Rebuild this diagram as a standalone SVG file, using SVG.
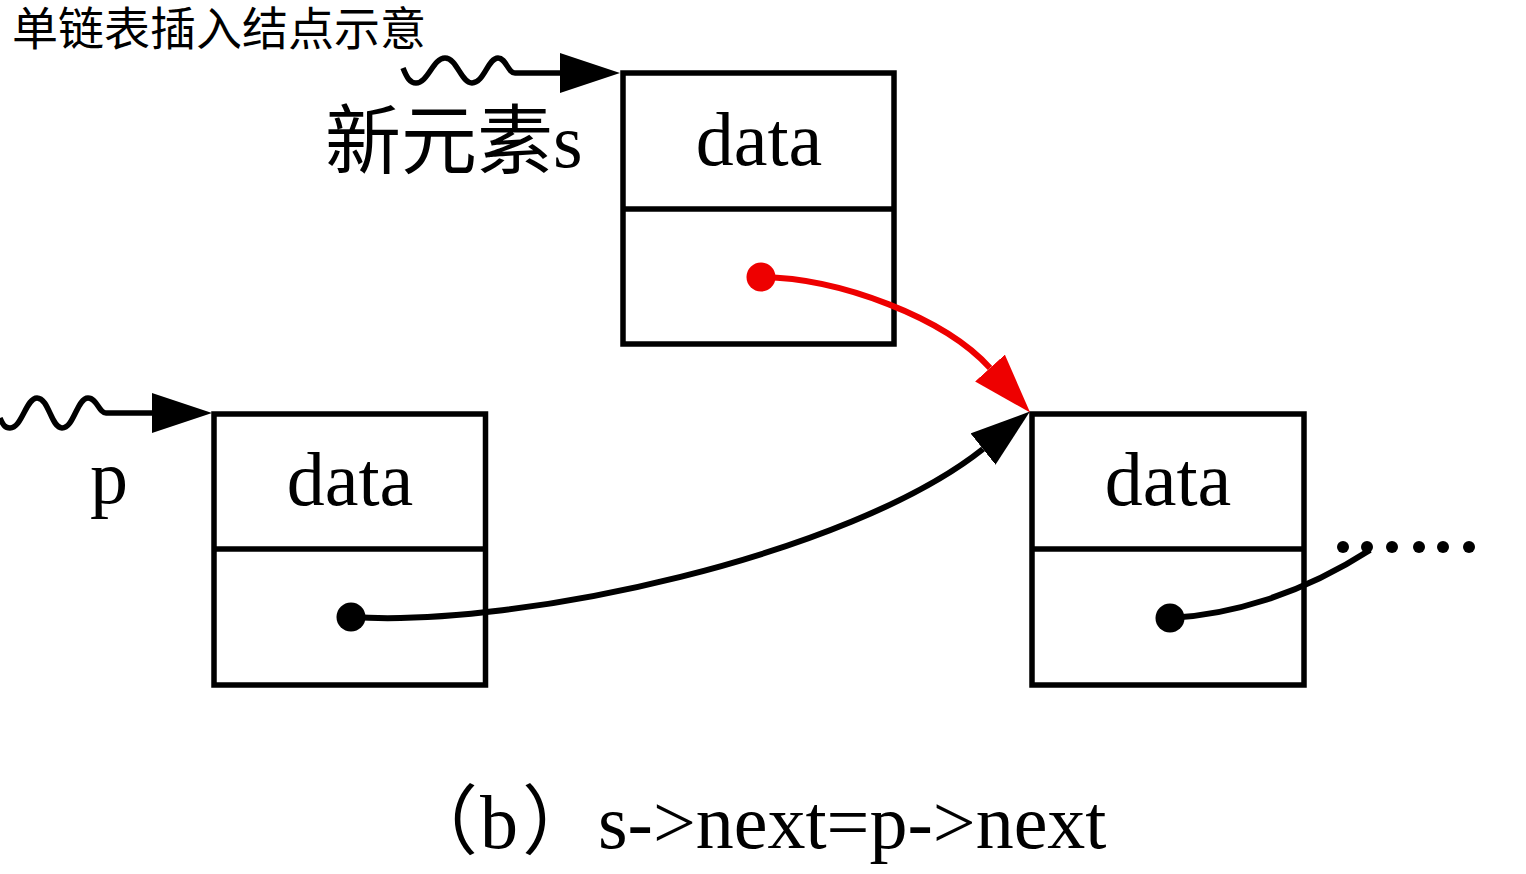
<svg xmlns="http://www.w3.org/2000/svg" width="1526" height="874" viewBox="0 0 1526 874">
  <style>
    .box { fill: none; stroke: #000; stroke-width: 5.5; stroke-linejoin: miter; }
    .div { stroke: #000; stroke-width: 5.5; }
    .data { font-family: "Liberation Serif", "Times New Roman", serif; font-size: 76px; fill: #000; text-anchor: middle; }
    .lbl { font-family: "Liberation Serif", "Noto Sans CJK SC", serif; font-size: 76px; fill: #000; }
    .cjk { font-family: "Noto Sans CJK SC", sans-serif; font-size: 76px; fill: #000; }
    .title { font-family: "Liberation Sans", "Noto Sans CJK SC", sans-serif; font-size: 46px; fill: #000; }
    .wire { fill: none; stroke: #000; stroke-width: 6; }
    .wave { fill: none; stroke: #000; stroke-width: 5.5; }
    .red { fill: none; stroke: #ee0000; stroke-width: 6; }
  </style>
  <defs>
    <marker id="arrowK" markerUnits="userSpaceOnUse" markerWidth="60" markerHeight="40" viewBox="0 0 60 40" refX="0" refY="20" orient="auto">
      <path d="M0,0 L60,20 L0,40 Z" fill="#000"/>
    </marker>
    <marker id="arrowR" markerUnits="userSpaceOnUse" markerWidth="60" markerHeight="40" viewBox="0 0 60 40" refX="0" refY="20" orient="auto">
      <path d="M0,0 L60,20 L0,40 Z" fill="#ee0000"/>
    </marker>
  </defs>
  <rect width="1526" height="874" fill="#fff"/>

  <text class="title" x="12" y="45">单链表插入结点示意</text>

  <g id="node-s">
    <rect class="box" x="623" y="73" width="271" height="271"/>
    <line class="div" x1="623" y1="209" x2="894" y2="209"/>
    <text class="data" x="759" y="165">data</text>
    <circle cx="761" cy="277" r="14.5" fill="#ee0000"/>
  </g>

  <g id="node-p">
    <rect class="box" x="214" y="414" width="271.5" height="271"/>
    <line class="div" x1="214" y1="549" x2="485.5" y2="549"/>
    <text class="data" x="350" y="505">data</text>
    <circle cx="351" cy="617" r="14.5" fill="#000"/>
  </g>

  <g id="node-next">
    <rect class="box" x="1032" y="414" width="272" height="271"/>
    <line class="div" x1="1032" y1="549" x2="1304" y2="549"/>
    <text class="data" x="1168" y="505">data</text>
    <circle cx="1170" cy="618" r="14.5" fill="#000"/>
  </g>

  <g id="label-s">
    <text class="cjk" x="325" y="168">新元素</text>
    <text class="lbl" x="553" y="167">s</text>
  </g>
  <g id="label-p">
    <text class="lbl" x="90" y="503">p</text>
  </g>

  <g id="dots">
    <circle cx="1343" cy="547" r="6"/>
    <circle cx="1367" cy="547" r="6"/>
    <circle cx="1392" cy="547" r="6"/>
    <circle cx="1419" cy="547" r="6"/>
    <circle cx="1443" cy="547" r="6"/>
    <circle cx="1469" cy="547" r="6"/>
  </g>

  <g id="connectors">
    <path class="wave" d="M403,68 C407,78 410,83 416,83 C428,83 433,58 445,58 C457,58 461,83 472,83 C484,83 488,58 498,58 C506,58 508,73 515,73 L560,73" marker-end="url(#arrowK)"/>
    <path class="wave" d="M0,418 C3,425 5,428 10,428 C22,428 26,398 37,398 C49,398 51,428 62,428 C74,428 77,398 88,398 C97,398 99,413 106,413 L152,413" marker-end="url(#arrowK)"/>
    <path class="wire" d="M351,617 C520,628 850,555 983,449" marker-end="url(#arrowK)"/>
    <path class="red" d="M761,277 C840,278 945,318 990,368" marker-end="url(#arrowR)"/>
    <path class="wire" d="M1170,618 C1230,615 1300,595 1370,550"/>
  </g>

  <g id="caption">
    <text class="cjk" x="402" y="848">（</text>
    <text class="lbl" x="480" y="848">b</text>
    <text class="cjk" x="522" y="848">）</text>
    <text class="lbl" x="598" y="848">s-&gt;next=p-&gt;next</text>
  </g>
</svg>
